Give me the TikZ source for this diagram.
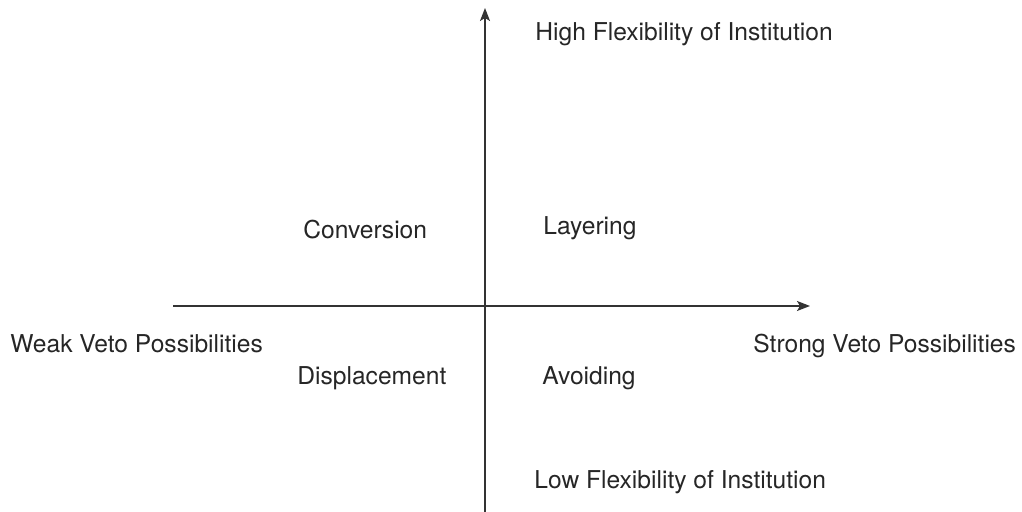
\documentclass[tikz,border=0pt]{standalone}
\usepackage{fontspec}
\setmainfont{TeX Gyre Heros}
\usetikzlibrary{arrows.meta}
\begin{document}
\begin{tikzpicture}[x=0.5pt,y=-0.5pt,
  axis/.style={line width=0.75pt, color=black!80, -{Stealth[length=6.5pt,width=5pt,inset=1.5pt]}},
  lbl/.style={anchor=base west, inner sep=0pt, font=\fontsize{12.3}{14}\selectfont, text=black!85}]
  \useasboundingbox (0,0) rectangle (1022,512);
  % axis ends
  \coordinate (ybot) at (485,512);
  \coordinate (ytop) at (485,8);
  \coordinate (xleft) at (173,306);
  \coordinate (xright) at (810,306);
  \draw[axis] (ybot) -- (ytop);
  \draw[axis] (xleft) -- (xright);
  % axis labels
  \node[lbl] (high) at (535,41) {High Flexibility of Institution};
  \node[lbl] (low) at (534,488) {Low Flexibility of Institution};
  \node[lbl] (weak) at (10,353) {Weak Veto Possibilities};
  \node[lbl] (strong) at (753,353) {Strong Veto Possibilities};
  % quadrant labels
  \node[lbl] (conv) at (303,239) {Conversion};
  \node[lbl] (layer) at (543,235) {Layering};
  \node[lbl] (disp) at (297,385) {Displacement};
  \node[lbl] (avoid) at (542,385) {Avoiding};
\end{tikzpicture}
\end{document}
